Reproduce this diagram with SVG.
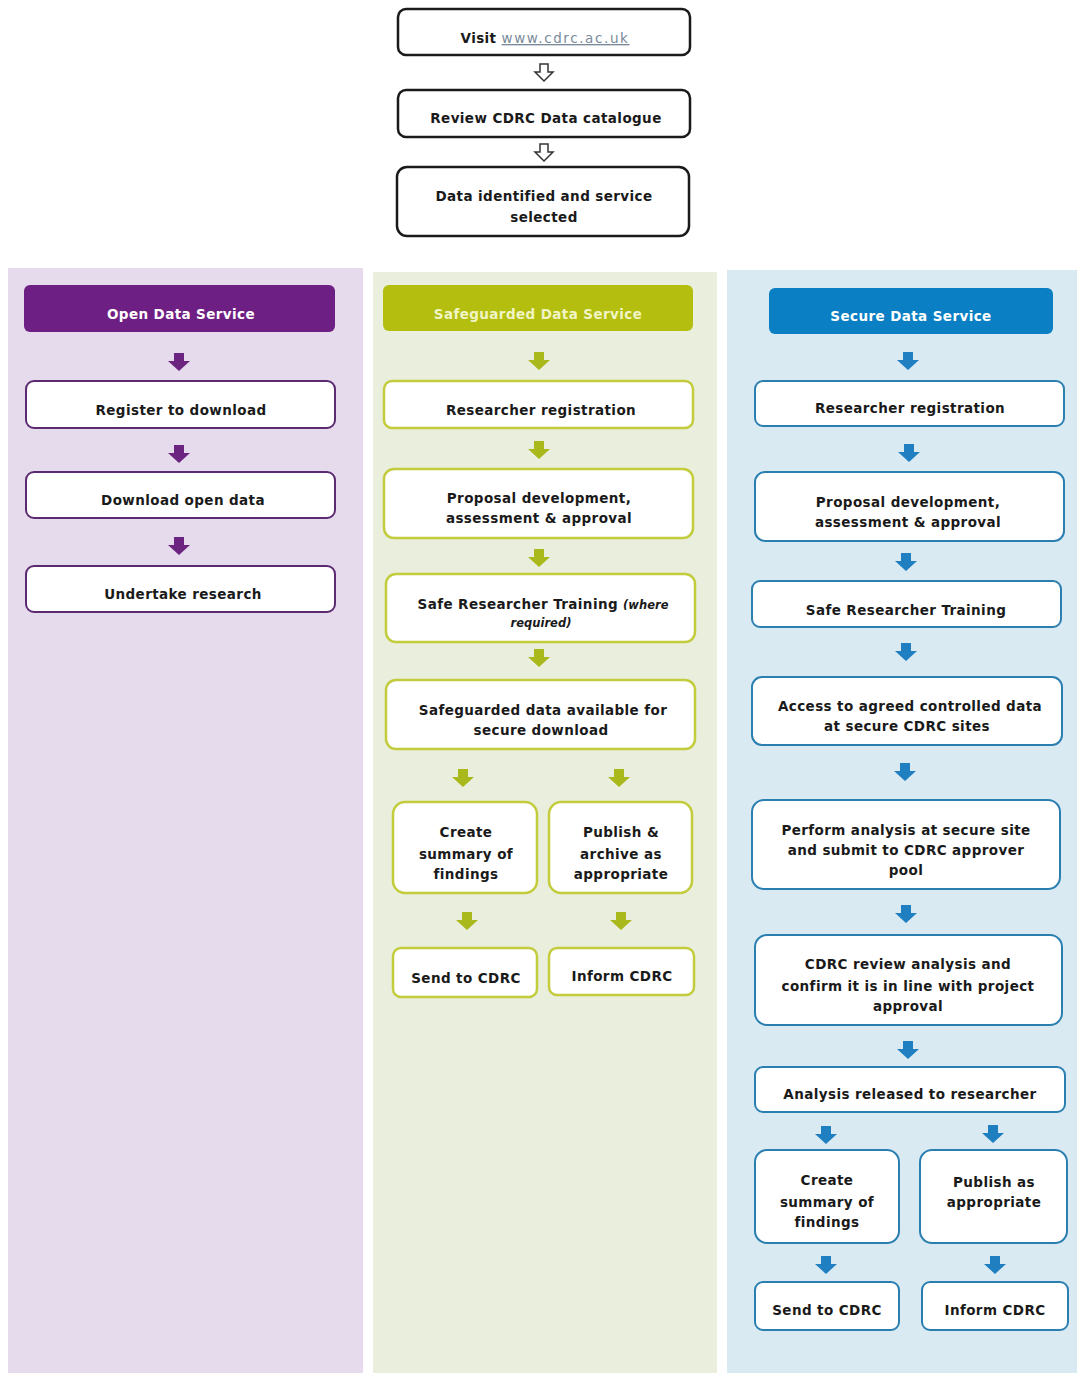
<svg xmlns="http://www.w3.org/2000/svg" width="1077" height="1373" viewBox="0 0 1077 1373">
<style>
text{font-family:"DejaVu Sans",Verdana,sans-serif;font-weight:bold;font-size:13.5px;text-anchor:middle;fill:#1a1a1a;letter-spacing:0.4px}
.top{fill:#fff;stroke:#1a1a1a;stroke-width:2.5}
.op{fill:#fff;stroke:#5b2a70;stroke-width:2}
.sg{fill:#fff;stroke:#c3cc3c;stroke-width:2.5}
.se{fill:#fff;stroke:#2b7fb0;stroke-width:2}
.ao{fill:#6b2580}
.ag{fill:#a9b81a}
.ab{fill:#1f7fc0}
.ah{fill:#fff;stroke:#333;stroke-width:1.5}
</style>
<defs>
<path id="arr" d="M-5,0 H5 V8 H11 L0,18 L-11,8 H-5 Z"/>
<path id="harr" d="M-4,0 H4 V8 H9 L0,17 L-9,8 H-4 Z"/>
</defs>
<rect width="1077" height="1373" fill="#fff"/>
<!-- panels -->
<rect x="8" y="268" width="355" height="1105" fill="#e6dbed"/>
<rect x="373" y="272" width="344" height="1101" fill="#e9efdc"/>
<rect x="727" y="270" width="350" height="1103" fill="#d9eaf3"/>

<g id="connectors">
<use href="#harr" x="544" y="64" class="ah"/>
<use href="#harr" x="544" y="144" class="ah"/>
<use href="#arr" x="179" y="353" class="ao"/>
<use href="#arr" x="179" y="445" class="ao"/>
<use href="#arr" x="179" y="537" class="ao"/>
<use href="#arr" x="539" y="352" class="ag"/>
<use href="#arr" x="539" y="441" class="ag"/>
<use href="#arr" x="539" y="549" class="ag"/>
<use href="#arr" x="539" y="649" class="ag"/>
<use href="#arr" x="463" y="769" class="ag"/>
<use href="#arr" x="619" y="769" class="ag"/>
<use href="#arr" x="467" y="912" class="ag"/>
<use href="#arr" x="621" y="912" class="ag"/>
<use href="#arr" x="908" y="352" class="ab"/>
<use href="#arr" x="909" y="444" class="ab"/>
<use href="#arr" x="906" y="553" class="ab"/>
<use href="#arr" x="906" y="643" class="ab"/>
<use href="#arr" x="905" y="763" class="ab"/>
<use href="#arr" x="906" y="905" class="ab"/>
<use href="#arr" x="908" y="1041" class="ab"/>
<use href="#arr" x="826" y="1126" class="ab"/>
<use href="#arr" x="993" y="1125" class="ab"/>
<use href="#arr" x="826" y="1256" class="ab"/>
<use href="#arr" x="995" y="1256" class="ab"/>
</g>

<!-- top -->
<g id="visit"><rect class="top" x="398" y="9" width="292" height="46" rx="8"/>
<text x="545" y="43"><tspan>Visit </tspan><tspan style="font-weight:normal;fill:#7a8a9a;text-decoration:underline;font-size:13.5px;letter-spacing:1.6px">www.cdrc.ac.uk</tspan></text></g>
<g id="review"><rect class="top" x="398" y="90" width="292" height="47" rx="8"/><text x="546" y="123">Review CDRC Data catalogue</text></g>
<g id="identified"><rect class="top" x="397" y="167" width="292" height="69" rx="10"/><text x="544" y="201">Data identified and service</text><text x="544" y="222">selected</text></g>

<!-- open -->
<g id="open-hdr"><rect x="24" y="285" width="311" height="47" rx="6" fill="#6e1f83"/><text x="181" y="319" style="fill:#fff">Open Data Service</text></g>
<g id="open-1"><rect class="op" x="26" y="381" width="309" height="47" rx="8"/><text x="181" y="415">Register to download</text></g>
<g id="open-2"><rect class="op" x="26" y="472" width="309" height="46" rx="8"/><text x="183" y="505">Download open data</text></g>
<g id="open-3"><rect class="op" x="26" y="566" width="309" height="46" rx="8"/><text x="183" y="599">Undertake research</text></g>

<!-- safeguarded -->
<g id="sg-hdr"><rect x="383" y="285" width="310" height="46" rx="6" fill="#b3be0e"/><text x="538" y="319" style="fill:#f1f4c4">Safeguarded Data Service</text></g>
<g id="sg-1"><rect class="sg" x="384" y="381" width="309" height="47" rx="8"/><text x="541" y="415">Researcher registration</text></g>
<g id="sg-2"><rect class="sg" x="384" y="469" width="309" height="69" rx="10"/><text x="539" y="503">Proposal development,</text><text x="539" y="523">assessment &amp; approval</text></g>
<g id="sg-3"><rect class="sg" x="386" y="574" width="309" height="68" rx="10"/><text x="543" y="609">Safe Researcher Training <tspan style="font-style:italic;font-size:11.5px;letter-spacing:0">(where</tspan></text><text x="541" y="627" style="font-style:italic;font-size:11.5px;letter-spacing:0">required)</text></g>
<g id="sg-4"><rect class="sg" x="386" y="680" width="309" height="69" rx="10"/><text x="543" y="715">Safeguarded data available for</text><text x="541" y="735">secure download</text></g>
<g id="sg-5"><rect class="sg" x="393" y="802" width="144" height="91" rx="12"/><text x="466" y="837">Create</text><text x="466" y="859">summary of</text><text x="466" y="879">findings</text></g>
<g id="sg-6"><rect class="sg" x="549" y="802" width="143" height="91" rx="12"/><text x="621" y="837">Publish &amp;</text><text x="621" y="859">archive as</text><text x="621" y="879">appropriate</text></g>
<g id="sg-7"><rect class="sg" x="393" y="948" width="144" height="49" rx="8"/><text x="466" y="983">Send to CDRC</text></g>
<g id="sg-8"><rect class="sg" x="549" y="948" width="145" height="47" rx="8"/><text x="622" y="981">Inform CDRC</text></g>

<!-- secure -->
<g id="se-hdr"><rect x="769" y="288" width="284" height="46" rx="6" fill="#0a7fc4"/><text x="911" y="321" style="fill:#fff">Secure Data Service</text></g>
<g id="se-1"><rect class="se" x="755" y="381" width="309" height="45" rx="8"/><text x="910" y="413">Researcher registration</text></g>
<g id="se-2"><rect class="se" x="755" y="472" width="309" height="69" rx="10"/><text x="908" y="507">Proposal development,</text><text x="908" y="527">assessment &amp; approval</text></g>
<g id="se-3"><rect class="se" x="752" y="581" width="309" height="46" rx="8"/><text x="906" y="615">Safe Researcher Training</text></g>
<g id="se-4"><rect class="se" x="752" y="677" width="310" height="68" rx="10"/><text x="910" y="711">Access to agreed controlled data</text><text x="907" y="731">at secure CDRC sites</text></g>
<g id="se-5"><rect class="se" x="752" y="800" width="308" height="89" rx="12"/><text x="906" y="835">Perform analysis at secure site</text><text x="906" y="855">and submit to CDRC approver</text><text x="906" y="875">pool</text></g>
<g id="se-6"><rect class="se" x="755" y="935" width="307" height="90" rx="12"/><text x="908" y="969">CDRC review analysis and</text><text x="908" y="991">confirm it is in line with project</text><text x="908" y="1011">approval</text></g>
<g id="se-7"><rect class="se" x="755" y="1067" width="310" height="45" rx="8"/><text x="910" y="1099">Analysis released to researcher</text></g>
<g id="se-8"><rect class="se" x="755" y="1150" width="144" height="93" rx="12"/><text x="827" y="1185">Create</text><text x="827" y="1207">summary of</text><text x="827" y="1227">findings</text></g>
<g id="se-9"><rect class="se" x="920" y="1150" width="147" height="93" rx="12"/><text x="994" y="1187">Publish as</text><text x="994" y="1207">appropriate</text></g>
<g id="se-10"><rect class="se" x="755" y="1282" width="144" height="48" rx="8"/><text x="827" y="1315">Send to CDRC</text></g>
<g id="se-11"><rect class="se" x="922" y="1282" width="146" height="48" rx="8"/><text x="995" y="1315">Inform CDRC</text></g>
</svg>
